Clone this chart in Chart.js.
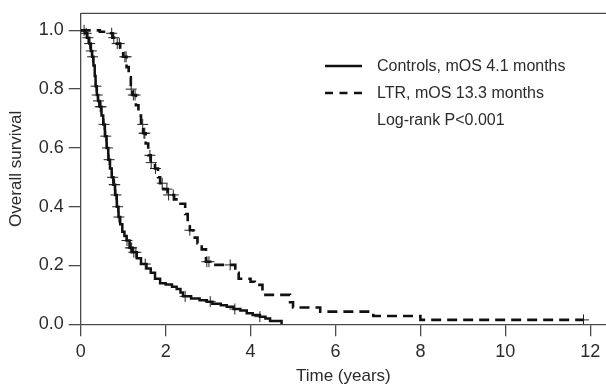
<!DOCTYPE html>
<html>
<head>
<meta charset="utf-8">
<script src="https://cdn.jsdelivr.net/npm/chart.js@4.4.1/dist/chart.umd.min.js"></script>
<style>
  html, body { margin: 0; padding: 0; background: #fff; }
  #km { display: block; }
</style>
</head>
<body>
<canvas id="km" width="606" height="387"></canvas>
<script>
// Kaplan-Meier steps (time in years, survival fraction)
const ctrlTime = [0, 0.05, 0.1, 0.15, 0.2, 0.24, 0.27, 0.3, 0.33, 0.35, 0.38, 0.41, 0.45, 0.49, 0.53, 0.57, 0.61, 0.65, 0.69, 0.73, 0.77, 0.81, 0.85, 0.89, 0.93, 0.98, 1.03, 1.08, 1.15, 1.22, 1.32, 1.42, 1.55, 1.65, 1.75, 1.87, 2.0, 2.15, 2.26, 2.35, 2.41, 2.6, 2.8, 2.97, 3.1, 3.3, 3.44, 3.6, 3.76, 3.91, 4.05, 4.22, 4.35, 4.46, 4.73];
const ctrlSurv = [1.0, 1.0, 0.99, 0.975, 0.955, 0.93, 0.91, 0.88, 0.845, 0.81, 0.78, 0.76, 0.74, 0.71, 0.68, 0.64, 0.60, 0.56, 0.53, 0.50, 0.475, 0.44, 0.40, 0.365, 0.34, 0.315, 0.30, 0.285, 0.26, 0.245, 0.225, 0.205, 0.19, 0.175, 0.155, 0.14, 0.135, 0.128, 0.12, 0.108, 0.095, 0.088, 0.082, 0.077, 0.07, 0.065, 0.06, 0.052, 0.047, 0.038, 0.032, 0.026, 0.02, 0.011, 0.0];

const ltrTime = [0, 0.45, 0.6, 0.75, 0.85, 0.93, 1.0, 1.08, 1.13, 1.18, 1.22, 1.3, 1.36, 1.42, 1.47, 1.53, 1.59, 1.65, 1.75, 1.82, 1.87, 1.95, 2.05, 2.2, 2.35, 2.46, 2.52, 2.57, 2.65, 2.75, 2.85, 2.95, 3.05, 3.64, 3.72, 4.0, 4.1, 4.28, 4.93, 5.0, 5.64, 6.89, 8.0, 11.84];
const ltrSurv = [1.0, 0.995, 0.99, 0.975, 0.955, 0.935, 0.91, 0.875, 0.84, 0.80, 0.78, 0.745, 0.71, 0.68, 0.65, 0.615, 0.575, 0.55, 0.53, 0.50, 0.48, 0.46, 0.44, 0.425, 0.41, 0.375, 0.345, 0.32, 0.295, 0.275, 0.255, 0.213, 0.202, 0.175, 0.155, 0.145, 0.134, 0.10, 0.075, 0.057, 0.043, 0.028, 0.015, 0.015];

// censored observations (+ marks)
const ctrlCensTime = [0.08, 0.13, 0.17, 0.21, 0.25, 0.28, 0.36, 0.39, 0.42, 0.46, 0.48, 0.55, 0.59, 0.63, 0.67, 0.75, 0.79, 0.8, 0.83, 0.87, 0.9, 1.09, 1.17, 1.2, 1.25, 1.3, 1.52, 2.46, 3.05, 3.63, 4.22];
const ctrlCensSurv = [1.0, 0.99, 0.975, 0.955, 0.93, 0.91, 0.81, 0.78, 0.76, 0.74, 0.74, 0.68, 0.64, 0.60, 0.56, 0.50, 0.475, 0.475, 0.44, 0.40, 0.365, 0.285, 0.26, 0.26, 0.245, 0.245, 0.205, 0.095, 0.077, 0.052, 0.026];
const ltrCensTime = [0.73, 0.78, 0.86, 0.91, 1.04, 1.07, 1.19, 1.24, 1.28, 1.46, 1.49, 1.51, 1.63, 1.66, 1.76, 1.92, 2.03, 2.07, 2.18, 2.57, 2.97, 3.02, 3.52, 11.84];
const ltrCensSurv = [0.99, 0.975, 0.955, 0.955, 0.91, 0.91, 0.80, 0.78, 0.78, 0.68, 0.65, 0.65, 0.575, 0.55, 0.53, 0.48, 0.46, 0.44, 0.44, 0.32, 0.213, 0.213, 0.202, 0.015];

const seriesLabels = ['Controls, mOS 4.1 months', 'LTR, mOS 13.3 months'];
const noteText = 'Log-rank P<0.001';
const xTicks = [0, 2, 4, 6, 8, 10, 12];
const yTicks = [0, 0.2, 0.4, 0.6, 0.8, 1.0];

const FONT = "'Liberation Sans', Arial, Helvetica, sans-serif";
const INK = '#111';
const AXIS = '#4a4a4a';
const TEXT = '#2b2b2b';

function pts(xs, ys) {
  return xs.map((x, i) => ({ x: x, y: ys[i] }));
}

// top frame line and the legend block
const frameAndLegend = {
  id: 'frameAndLegend',
  afterDraw(chart) {
    const ctx = chart.ctx;
    const a = chart.chartArea;
    ctx.save();
    ctx.strokeStyle = AXIS;
    ctx.lineWidth = 1.3;
    ctx.beginPath();
    ctx.moveTo(a.left, a.top);
    ctx.lineTo(a.right, a.top);
    ctx.stroke();

    const x0 = 325, x1 = 362, tx = 377;
    const rows = [66, 93, 120];
    ctx.strokeStyle = INK;
    ctx.lineWidth = 2.5;
    ctx.setLineDash([]);
    ctx.beginPath(); ctx.moveTo(x0, rows[0]); ctx.lineTo(x1, rows[0]); ctx.stroke();
    ctx.setLineDash([8, 6.5]);
    ctx.beginPath(); ctx.moveTo(x0, rows[1]); ctx.lineTo(x1, rows[1]); ctx.stroke();
    ctx.setLineDash([]);
    ctx.fillStyle = TEXT;
    ctx.font = '16px ' + FONT;
    ctx.textBaseline = 'middle';
    ctx.textAlign = 'left';
    ctx.fillText(seriesLabels[0], tx, rows[0] + 1);
    ctx.fillText(seriesLabels[1], tx, rows[1] + 1);
    ctx.fillText(noteText, tx, rows[2] + 1);
    ctx.restore();
  }
};

const ctx = document.getElementById('km');
new Chart(ctx, {
  type: 'line',
  data: {
    datasets: [
      {
        label: seriesLabels[0],
        data: pts(ctrlTime, ctrlSurv),
        stepped: 'before',
        borderColor: INK,
        borderWidth: 2.5,
        pointRadius: 0,
        fill: false
      },
      {
        label: seriesLabels[1],
        data: pts(ltrTime, ltrSurv),
        stepped: 'before',
        borderColor: INK,
        borderWidth: 2.6,
        borderDash: [10, 6],
        pointRadius: 0,
        fill: false
      },
      {
        label: 'Controls censored',
        data: pts(ctrlCensTime, ctrlCensSurv),
        showLine: false,
        pointStyle: 'cross',
        pointRadius: 5.5,
        pointBorderWidth: 1,
        pointBorderColor: '#222'
      },
      {
        label: 'LTR censored',
        data: pts(ltrCensTime, ltrCensSurv),
        showLine: false,
        pointStyle: 'cross',
        pointRadius: 5.5,
        pointBorderWidth: 1,
        pointBorderColor: '#222'
      }
    ]
  },
  options: {
    responsive: false,
    animation: false,
    devicePixelRatio: 1,
    layout: { autoPadding: false, padding: { top: 13.3, right: 0, left: 0, bottom: 0 } },
    plugins: {
      legend: { display: false },
      tooltip: { enabled: false }
    },
    scales: {
      x: {
        type: 'linear',
        min: 0,
        max: 12.37,
        afterFit(scale) {
          scale.height = 62.7;
          scale.paddingLeft = 0;
          scale.paddingRight = 0;
        },
        afterBuildTicks(scale) { scale.ticks = xTicks.map(v => ({ value: v })); },
        ticks: {
          includeBounds: false,
          autoSkip: false,
          maxRotation: 0,
          padding: 5,
          color: TEXT,
          font: { family: FONT, size: 18 },
          callback: v => String(v)
        },
        grid: { drawOnChartArea: false, drawTicks: true, tickLength: 12, color: AXIS, lineWidth: 1.3 },
        border: { display: true, color: AXIS, width: 1.3 },
        title: {
          display: true,
          text: 'Time (years)',
          color: TEXT,
          font: { family: FONT, size: 17 },
          padding: { top: 0, bottom: 0 }
        }
      },
      y: {
        min: 0,
        max: 1.058,
        afterFit(scale) {
          scale.width = 80.7;
          scale.paddingTop = 0;
          scale.paddingBottom = 0;
        },
        afterBuildTicks(scale) { scale.ticks = yTicks.map(v => ({ value: v })); },
        ticks: {
          includeBounds: false,
          padding: 5,
          color: TEXT,
          font: { family: FONT, size: 18 },
          callback: v => Number(v).toFixed(1)
        },
        grid: { drawOnChartArea: false, drawTicks: true, tickLength: 12, color: AXIS, lineWidth: 1.3 },
        border: { display: true, color: AXIS, width: 1.3 },
        title: {
          display: true,
          text: 'Overall survival',
          color: TEXT,
          font: { family: FONT, size: 17 },
          padding: { top: 6, bottom: 0 }
        }
      }
    }
  },
  plugins: [frameAndLegend]
});
</script>
</body>
</html>
